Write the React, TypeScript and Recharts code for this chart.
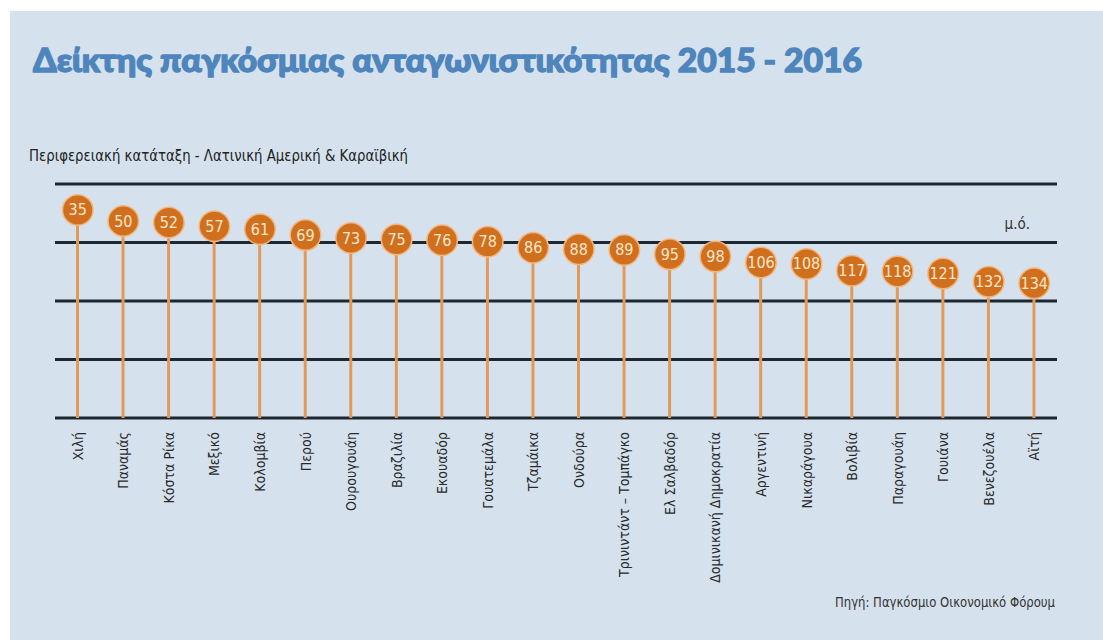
import React from 'react';
import {
  ComposedChart,
  Bar,
  Line,
  XAxis,
  YAxis,
  CartesianGrid
} from 'recharts';

// Latin America & Caribbean, global competitiveness rank 2015-2016
const countries = [
  'Χιλή', 'Παναμάς', 'Κόστα Ρίκα', 'Μεξικό', 'Κολομβία', 'Περού', 'Ουρουγουάη',
  'Βραζιλία', 'Εκουαδόρ', 'Γουατεμάλα', 'Τζαμάικα', 'Ονδούρα', 'Τρινιντάντ – Τομπάγκο',
  'Ελ Σαλβαδόρ', 'Δομινικανή Δημοκρατία', 'Αργεντινή', 'Νικαράγουα', 'Βολιβία',
  'Παραγουάη', 'Γουιάνα', 'Βενεζουέλα', 'Αϊτή'
];
const ranks = [35, 50, 52, 57, 61, 69, 73, 75, 76, 78, 86, 88, 89, 95, 98, 106, 108, 117, 118, 121, 132, 134];

const rankDomain = [0, 316];
const gridTicks = [0, 79, 158, 237, 316];

const TITLE = 'Δείκτης παγκόσμιας ανταγωνιστικότητας 2015 - 2016';
const SUBTITLE = 'Περιφερειακή κατάταξη - Λατινική Αμερική & Καραϊβική';
const SOURCE = 'Πηγή: Παγκόσμιο Οικονομικό Φόρουμ';
const AVG_LABEL = 'μ.ό.';

const chartData = countries.map((name, i) => ({
  name,
  rank: ranks[i],
  stem: [ranks[i], rankDomain[1]]
}));

const NARROW = '"Liberation Sans Narrow", "DejaVu Sans Condensed", "Roboto Condensed", sans-serif';

const CountryTick = (props: any) => {
  const { x, y, payload } = props;
  const ty = y + 14;
  return (
    <text
      x={x}
      y={ty}
      transform={`rotate(-90, ${x}, ${ty})`}
      textAnchor="end"
      dominantBaseline="central"
      fontFamily={NARROW}
      fontSize={14}
      fill="#2a2a2a"
    >
      {payload.value}
    </text>
  );
};

const Pin = (props: any) => {
  const { cx, cy, value } = props;
  if (cx == null || cy == null) return null;
  return (
    <g>
      <circle cx={cx} cy={cy} r={16} fill="#f3b67d" />
      <circle cx={cx} cy={cy} r={14.5} fill="#d0701f" />
      <text
        x={cx}
        y={cy}
        textAnchor="middle"
        dominantBaseline="central"
        fontFamily={NARROW}
        fontSize={16}
        fill="#fde7cc"
      >
        {value}
      </text>
    </g>
  );
};

export default function App() {
  return (
    <div style={{ position: 'absolute', left: 0, top: 0, width: 1103, height: 640, background: '#ffffff' }}>
      <div style={{ position: 'absolute', left: 10, top: 11, width: 1093, height: 629, background: '#d5e2ed' }} />
      <svg width={1103} height={640} style={{ position: 'absolute', left: 0, top: 0 }}>
        <text
          x={33}
          y={72}
          textLength={829}
          lengthAdjust="spacingAndGlyphs"
          fontFamily="Lato, 'Open Sans', sans-serif"
          fontWeight={900}
          fontSize={33}
          fill="#4f85bd"
          stroke="#4f85bd"
          strokeWidth={1.4}
        >
          {TITLE}
        </text>
        <text x={29} y={161} textLength={379} lengthAdjust="spacingAndGlyphs" fontFamily={NARROW} fontSize={15} fill="#222">
          {SUBTITLE}
        </text>
        <text x={835} y={607} textLength={220} lengthAdjust="spacingAndGlyphs" fontFamily={NARROW} fontSize={14} fill="#333">
          {SOURCE}
        </text>
        <text x={1030} y={229} textAnchor="end" fontFamily={NARROW} fontSize={15} fill="#333">
          {AVG_LABEL}
        </text>
      </svg>
      <div style={{ position: 'absolute', left: 0, top: 0 }}>
        <ComposedChart
          width={1103}
          height={640}
          data={chartData}
          margin={{ top: 184, right: 46, bottom: 0, left: 55 }}
        >
          <CartesianGrid
            vertical={false}
            horizontalValues={gridTicks}
            stroke="#1d2731"
            strokeWidth={3}
            strokeDasharray=""
          />
          <XAxis
            dataKey="name"
            interval={0}
            height={222}
            axisLine={false}
            tickLine={false}
            tickSize={0}
            tickMargin={0}
            tick={<CountryTick />}
          />
          <YAxis hide reversed type="number" domain={rankDomain} ticks={gridTicks} />
          <Bar dataKey="stem" barSize={3} fill="#e39a58" isAnimationActive={false} />
          <Line
            dataKey="rank"
            stroke="none"
            dot={<Pin />}
            activeDot={false}
            isAnimationActive={false}
          />
        </ComposedChart>
      </div>
    </div>
  );
}
